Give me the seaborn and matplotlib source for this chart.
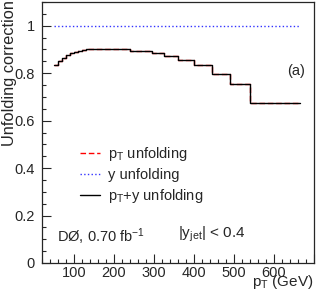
import numpy as np
import pandas as pd
import matplotlib
matplotlib.use("Agg")
import matplotlib.pyplot as plt
import seaborn as sns
from matplotlib.ticker import MultipleLocator, FuncFormatter

# bin edges in pT (GeV) and correction per bin
edges = [50, 60, 70, 80, 90, 100, 110, 120, 130, 145, 160, 180, 200, 220,
         240, 265, 295, 325, 360, 400, 445, 490, 540, 665]
pty_unf = [0.835, 0.853, 0.866, 0.876, 0.883, 0.889, 0.894, 0.897, 0.900,
           0.902, 0.903, 0.903, 0.902, 0.901, 0.895, 0.892, 0.884, 0.871,
           0.855, 0.833, 0.797, 0.755, 0.674]
pt_unf = [0.835, 0.853, 0.866, 0.876, 0.883, 0.889, 0.894, 0.897, 0.900,
          0.902, 0.903, 0.903, 0.902, 0.901, 0.895, 0.892, 0.884, 0.871,
          0.855, 0.833, 0.797, 0.755, 0.674]
y_unf = [1.0] * 23

sns.set_style("ticks")
plt.rcParams["font.family"] = ["Liberation Sans", "DejaVu Sans"]
plt.rcParams["mathtext.fontset"] = "custom"
plt.rcParams["mathtext.rm"] = "Liberation Sans"
plt.rcParams["mathtext.it"] = "Liberation Sans:italic"

fs = 10.5

fig = plt.figure(figsize=(3.16, 3.01), dpi=100)
ax = fig.add_axes([42 / 316, 38 / 301, 272 / 316, 261 / 301])


def step_frame(vals, name):
    return pd.DataFrame({"pt": edges, "corr": list(vals) + [vals[-1]], "curve": name})


sns.lineplot(data=step_frame(y_unf, "y"), x="pt", y="corr", ax=ax,
             drawstyle="steps-post", color="#3333ff", linestyle=":", lw=1.0,
             label="y unfolding", zorder=2)
sns.lineplot(data=step_frame(pt_unf, "pt"), x="pt", y="corr", ax=ax,
             drawstyle="steps-post", color="red", linestyle=(0, (4, 2)), lw=1.0,
             label=r"$\mathrm{p_{T}}$ unfolding", zorder=2)
sns.lineplot(data=step_frame(pty_unf, "pty"), x="pt", y="corr", ax=ax,
             drawstyle="steps-post", color="black", lw=1.0,
             label=r"$\mathrm{p_{T}}$+y unfolding", zorder=3)

# legend order as in the reference
h, l = ax.get_legend_handles_labels()
order = [1, 0, 2]
ax.legend([h[i] for i in order], [l[i] for i in order], frameon=False,
          loc="upper left", bbox_to_anchor=(0.14, 0.452), borderpad=0,
          borderaxespad=0, handlelength=1.4, handletextpad=0.5,
          labelspacing=0.35, fontsize=fs)

ax.set_xlim(20, 700)
ax.set_ylim(0, 1.1)
ax.xaxis.set_major_locator(MultipleLocator(100))
ax.xaxis.set_minor_locator(MultipleLocator(20))
ax.yaxis.set_major_locator(MultipleLocator(0.2))
ax.yaxis.set_minor_locator(MultipleLocator(0.05))
ax.yaxis.set_major_formatter(FuncFormatter(lambda v, p: f"{v:g}"))
ax.xaxis.set_major_formatter(
    FuncFormatter(lambda v, p: "" if v <= 0 or v >= 700 else f"{v:g}"))
ax.tick_params(which="both", direction="in", top=False, right=False,
               labelsize=fs, width=0.8)
ax.tick_params(which="major", length=6.5, pad=5)
ax.tick_params(axis="x", which="major", pad=2.5)
ax.tick_params(which="minor", length=3.2)
for s in ax.spines.values():
    s.set_linewidth(0.9)

ax.set_xlabel("")
ax.set_ylabel("")
fig.text(314 / 316, 15 / 301, r"$\mathrm{p_{T}}$ (GeV)", ha="right",
         va="baseline", fontsize=fs + 0.5)
fig.text(2 / 316, 0.999, "Unfolding correction", rotation=90, ha="left",
         va="top", fontsize=fs + 1.3)

ax.text(0.055, 0.08, r"DØ, 0.70 fb$^{\mathrm{-1}}$", transform=ax.transAxes,
        fontsize=fs, va="baseline")
ax.text(0.50, 0.096, r"|y$_{\mathrm{jet}}$| < 0.4", transform=ax.transAxes,
        fontsize=fs + 0.5, va="baseline")
ax.text(0.90, 0.735, "(a)", transform=ax.transAxes, fontsize=fs, va="center")

fig.savefig("out.png", dpi=100)
